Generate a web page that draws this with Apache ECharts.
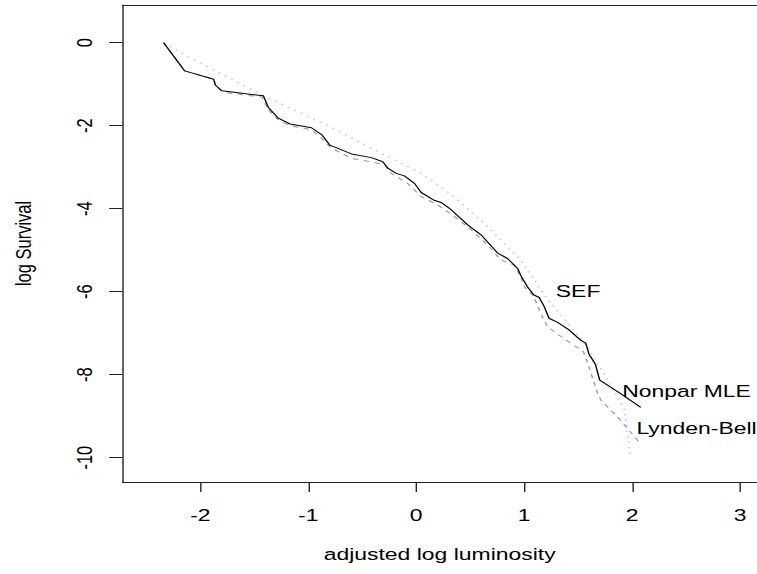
<!DOCTYPE html>
<html>
<head>
<meta charset="utf-8">
<title>log Survival</title>
<script src="https://cdn.jsdelivr.net/npm/echarts@6/dist/echarts.min.js"></script>
<style>
html, body { margin: 0; padding: 0; background: #fff; overflow: hidden; width: 757px; height: 574px; }
/* the reference is an R plot stretched sideways, so draw it narrow and stretch it the same way */
#chart { width: 560px; height: 574px; transform: scaleX(1.39); transform-origin: 0 0; }
</style>
</head>
<body>
<div id="chart"></div>
<script>
const xTicks = [-2, -1, 0, 1, 2, 3]
const yTicks = [-10, -8, -6, -4, -2, 0]

// Nonpar MLE (solid)
const mleX = [-2.34, -2.145, -1.877, -1.862, -1.8, -1.416, -1.37, -1.277, -1.17, -0.97, -0.874, -0.8, -0.6, -0.415,
  -0.31, -0.26, -0.185, -0.11, -0.016, 0.046, 0.16, 0.23, 0.308, 0.477, 0.6, 0.754, 0.846, 0.94, 0.97, 1.03,
  1.09, 1.14, 1.186, 1.23, 1.31, 1.415, 1.52, 1.57, 1.6, 1.66, 1.7, 1.89, 2.08]
const mleY = [0, -0.68, -0.88, -1.02, -1.16, -1.28, -1.56, -1.82, -1.96, -2.05, -2.22, -2.47, -2.68, -2.77,
  -2.87, -3.03, -3.15, -3.21, -3.39, -3.61, -3.79, -3.85, -3.99, -4.39, -4.63, -5.07, -5.2, -5.44, -5.62, -5.88,
  -6.08, -6.14, -6.36, -6.64, -6.74, -6.92, -7.16, -7.24, -7.5, -7.75, -8.13, -8.45, -8.79]

// Lynden-Bell (dashed)
const lbX = [-2.34, -2.145, -1.877, -1.85, -1.78, -1.43, -1.37, -1.277, -1.185, -0.97, -0.877, -0.785, -0.6, -0.415,
  -0.29, -0.23, -0.08, 0.046, 0.2, 0.354, 0.51, 0.66, 0.785, 0.908, 0.97, 1.0, 1.09, 1.154, 1.215, 1.34,
  1.55, 1.6, 1.68, 1.71, 1.89, 2.06]
const lbY = [0, -0.68, -0.88, -1.06, -1.2, -1.31, -1.62, -1.86, -1.99, -2.1, -2.3, -2.54, -2.79, -2.87,
  -2.95, -3.15, -3.39, -3.71, -3.91, -4.19, -4.51, -4.87, -5.24, -5.36, -5.66, -5.88, -6.12, -6.52, -6.84, -7.08,
  -7.45, -7.81, -8.45, -8.61, -9.09, -9.61]

// SEF (dotted)
const sefX = [-2.34, -2.14, -1.43, -1.0, -0.785, -0.5, -0.26, 0.05, 0.35, 0.66, 0.97, 1.22, 1.43, 1.585, 1.74, 1.93, 1.985]
const sefY = [0, -0.3, -1.26, -1.78, -2.04, -2.43, -2.75, -3.15, -3.71, -4.43, -5.24, -6.2, -6.84, -7.33, -7.97, -8.85, -10.0]

const pairs = (xs, ys) => xs.map((x, i) => [x, ys[i]])

const font = "'Liberation Sans', Arial, Helvetica, sans-serif"
const ink = '#222'

function curveLabel(name, coord) {
  return {
    symbol: 'circle',
    symbolSize: 0,
    silent: true,
    label: { show: true, position: 'right', distance: 0, formatter: name, color: '#000', fontSize: 16.5, fontFamily: font },
    data: [{ coord }],
  }
}

const chart = echarts.init(document.getElementById('chart'), null, { renderer: 'svg' })

chart.setOption({
  animation: false,
  backgroundColor: '#fff',
  grid: { left: 86.33, right: 15.4, top: 5, bottom: 92 },
  xAxis: [
    {
      type: 'value',
      min: -2.723,
      max: 3.157,
      position: 'bottom',
      name: 'adjusted log luminosity',
      nameLocation: 'middle',
      nameGap: 64,
      nameTextStyle: { color: '#000', fontSize: 16.5, fontFamily: font },
      axisLine: { show: true, onZero: false, lineStyle: { color: ink, width: 1 } },
      axisTick: { show: true, length: 10, customValues: xTicks, lineStyle: { color: ink } },
      axisLabel: { customValues: xTicks, margin: 25, color: '#000', fontSize: 16.5, fontFamily: font },
      splitLine: { show: false },
    },
    {
      type: 'value',
      min: -2.723,
      max: 3.157,
      position: 'top',
      axisLine: { show: true, onZero: false, lineStyle: { color: ink, width: 1 } },
      axisTick: { show: false },
      axisLabel: { show: false },
      splitLine: { show: false },
    },
  ],
  yAxis: {
    type: 'value',
    min: -10.586,
    max: 0.908,
    name: 'log Survival',
    nameLocation: 'middle',
    nameGap: 63,
    nameTextStyle: { color: '#000', fontSize: 16.5, fontFamily: font },
    axisLine: { show: true, onZero: false, lineStyle: { color: ink, width: 1 } },
    axisTick: { show: true, length: 9.5, customValues: yTicks, lineStyle: { color: ink } },
    axisLabel: { customValues: yTicks, rotate: 90, margin: 19, color: '#000', fontSize: 16.5, fontFamily: font },
    splitLine: { show: false },
  },
  series: [
    {
      name: 'SEF',
      type: 'line',
      data: pairs(sefX, sefY),
      symbol: 'none',
      lineStyle: { color: '#d0d0d0', width: 1.5, type: [1.5, 4] },
      markPoint: curveLabel('SEF', [1.293, -6.0]),
    },
    {
      name: 'Lynden-Bell',
      type: 'line',
      data: pairs(lbX, lbY),
      symbol: 'none',
      lineStyle: { color: '#9a9a9a', width: 1, type: [4, 4] },
      markPoint: curveLabel('Lynden-Bell', [2.04, -9.29]),
    },
    {
      name: 'Nonpar MLE',
      type: 'line',
      data: pairs(mleX, mleY),
      symbol: 'none',
      lineStyle: { color: '#000', width: 1 },
      markPoint: curveLabel('Nonpar MLE', [1.908, -8.41]),
    },
  ],
})
</script>
</body>
</html>
